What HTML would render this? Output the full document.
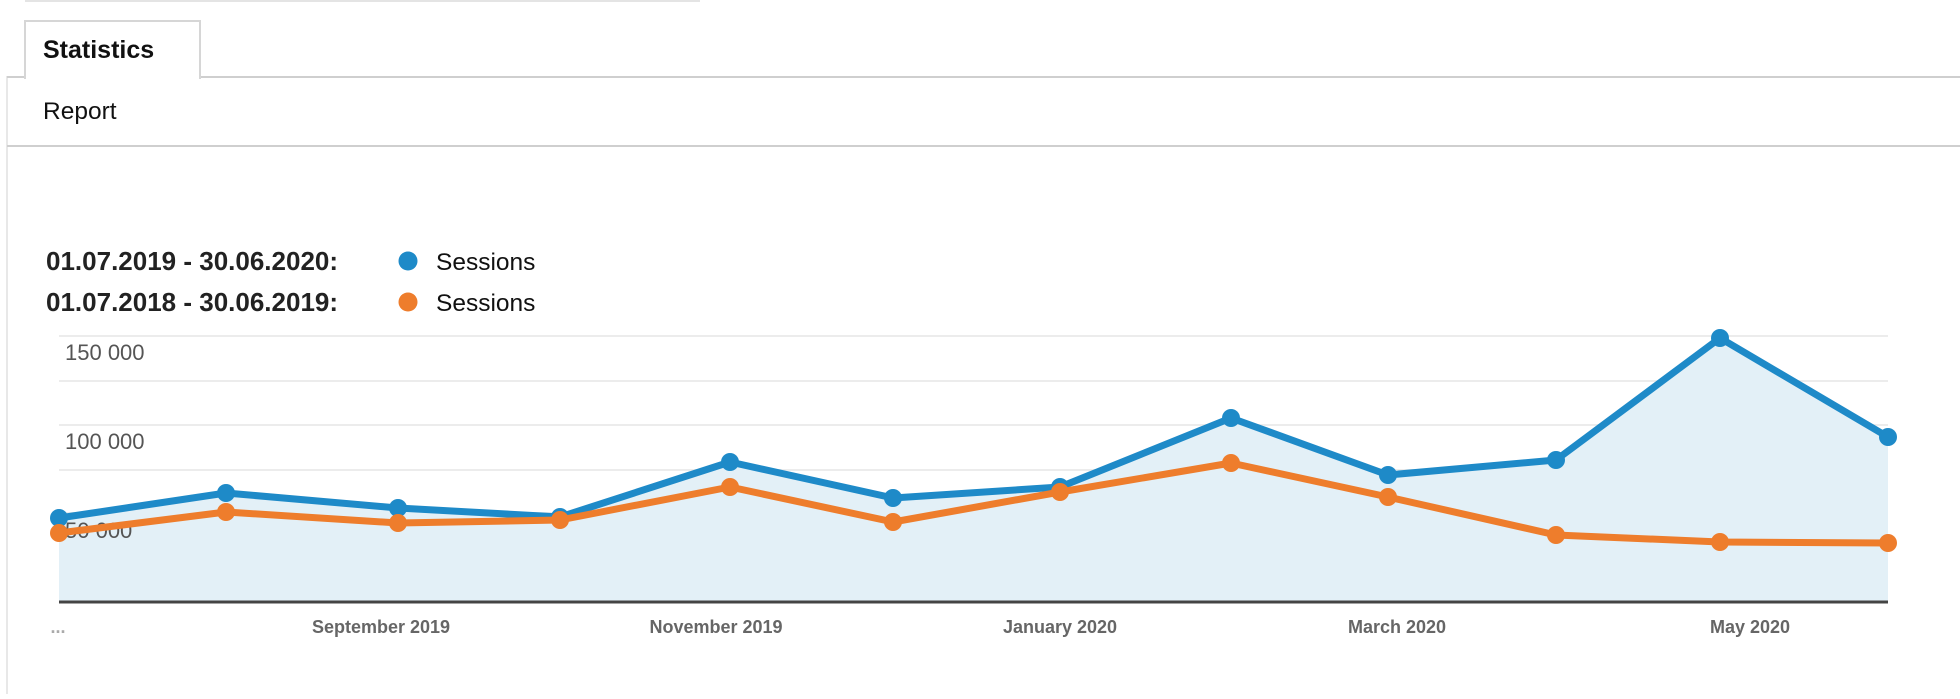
<!DOCTYPE html>
<html><head><meta charset="utf-8"><style>
body{margin:0;width:1960px;height:694px;background:#fff;overflow:hidden;font-family:"Liberation Sans",sans-serif}
</style></head><body>
<svg width="1960" height="694" xmlns="http://www.w3.org/2000/svg" font-family="Liberation Sans, sans-serif">
<line x1="25" y1="1" x2="700" y2="1" stroke="#e4e4e4" stroke-width="2"/>
<line x1="7" y1="76" x2="7" y2="694" stroke="#e8e8e8" stroke-width="2"/>
<line x1="7" y1="77" x2="1960" y2="77" stroke="#cfcfcf" stroke-width="2"/>
<rect x="25" y="21" width="175" height="57" fill="#fff" stroke="#d6d6d6" stroke-width="2"/>
<rect x="26" y="70" width="173" height="10" fill="#fff"/>
<text x="43" y="58" font-size="25" font-weight="bold" fill="#111">Statistics</text>
<text x="43" y="119" font-size="24.5" fill="#111">Report</text>
<line x1="7" y1="146" x2="1960" y2="146" stroke="#cfcfcf" stroke-width="2"/>
<text x="46" y="270" font-size="26" font-weight="bold" fill="#222">01.07.2019 - 30.06.2020:</text>
<text x="46" y="311" font-size="26" font-weight="bold" fill="#222">01.07.2018 - 30.06.2019:</text>
<circle cx="408" cy="261" r="9.5" fill="#1e8ac8"/>
<circle cx="408" cy="302" r="9.5" fill="#ee7d2c"/>
<text x="436" y="270" font-size="24.5" fill="#111">Sessions</text>
<text x="436" y="311" font-size="24.5" fill="#111">Sessions</text>
<g stroke="#ececec" stroke-width="2">
<line x1="59" y1="336" x2="1888" y2="336"/><line x1="59" y1="381" x2="1888" y2="381"/>
<line x1="59" y1="425" x2="1888" y2="425"/><line x1="59" y1="470" x2="1888" y2="470"/>
<line x1="59" y1="513" x2="1888" y2="513"/><line x1="59" y1="558" x2="1888" y2="558"/>
</g>
<polygon fill="#e3f0f7" points="59,602 59,518 226,493 398,508 560,517 730,462 893,498 1060,487 1231,418 1388,475 1556,460 1720,338 1888,437 1888,602"/>
<line x1="59" y1="602" x2="1888" y2="602" stroke="#444" stroke-width="3"/>
<g font-size="22" fill="#555">
<text x="65" y="360">150 000</text><text x="65" y="449">100 000</text><text x="65" y="538">50 000</text>
</g>
<polyline fill="none" stroke="#1e8ac8" stroke-width="7" stroke-linejoin="round" points="59,518 226,493 398,508 560,517 730,462 893,498 1060,487 1231,418 1388,475 1556,460 1720,338 1888,437"/>
<g fill="#1e8ac8"><circle cx="59" cy="518" r="9"/><circle cx="226" cy="493" r="9"/><circle cx="398" cy="508" r="9"/><circle cx="560" cy="517" r="9"/><circle cx="730" cy="462" r="9"/><circle cx="893" cy="498" r="9"/><circle cx="1060" cy="487" r="9"/><circle cx="1231" cy="418" r="9"/><circle cx="1388" cy="475" r="9"/><circle cx="1556" cy="460" r="9"/><circle cx="1720" cy="338" r="9"/><circle cx="1888" cy="437" r="9"/></g>
<polyline fill="none" stroke="#ee7d2c" stroke-width="7" stroke-linejoin="round" points="59,533 226,512 398,523 560,520 730,487 893,522 1060,492 1231,463 1388,497 1556,535 1720,542 1888,543"/>
<g fill="#ee7d2c"><circle cx="59" cy="533" r="9"/><circle cx="226" cy="512" r="9"/><circle cx="398" cy="523" r="9"/><circle cx="560" cy="520" r="9"/><circle cx="730" cy="487" r="9"/><circle cx="893" cy="522" r="9"/><circle cx="1060" cy="492" r="9"/><circle cx="1231" cy="463" r="9"/><circle cx="1388" cy="497" r="9"/><circle cx="1556" cy="535" r="9"/><circle cx="1720" cy="542" r="9"/><circle cx="1888" cy="543" r="9"/></g>
<g font-size="18" font-weight="bold" fill="#666" text-anchor="middle">
<text x="381" y="633">September 2019</text><text x="716" y="633">November 2019</text>
<text x="1060" y="633">January 2020</text><text x="1397" y="633">March 2020</text><text x="1750" y="633">May 2020</text>
<text x="58" y="633" fill="#aaa">...</text>
</g>
</svg>
</body></html>
